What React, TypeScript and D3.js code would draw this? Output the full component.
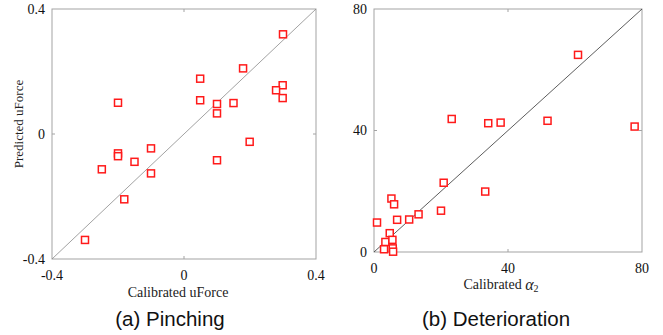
import * as d3 from "d3";

// (a) Pinching: calibrated vs predicted uForce
const pinchCalibrated = [
  0.3, 0.179, 0.049, 0.299, 0.279, 0.299, 0.049, 0.1, 0.15, -0.2, 0.1,
  0.199, -0.1, -0.2, -0.2, -0.15, 0.1, -0.249, -0.1, -0.181, -0.3,
];
const pinchPredicted = [
  0.319, 0.21, 0.177, 0.156, 0.14, 0.115, 0.108, 0.096, 0.099, 0.1, 0.066,
  -0.025, -0.046, -0.062, -0.071, -0.089, -0.084, -0.113, -0.126, -0.209, -0.339,
];
const pinchTicks = [-0.4, 0, 0.4];
const pinchTickLabels = ["-0.4", "0", "0.4"];

// (b) Deterioration: calibrated vs predicted alpha2
const detCalibrated = [
  60.9, 23.2, 34.1, 37.8, 51.8, 77.8, 20.8, 33.2, 20.0, 5.2, 6.0, 0.9, 6.9,
  10.5, 13.3, 4.7, 3.4, 5.5, 3.0, 5.6, 5.7,
];
const detPredicted = [
  64.9, 43.8, 42.4, 42.6, 43.2, 41.3, 22.8, 19.9, 13.6, 17.6, 15.7, 9.7, 10.6,
  10.7, 12.4, 6.2, 3.3, 4.0, 0.9, 1.2, 0.1,
];
const detTicks = [0, 40, 80];
const detTickLabels = ["0", "40", "80"];

const SERIF = "'Liberation Serif', 'Times New Roman', serif";
const SANS = "'Liberation Sans', Arial, sans-serif";

function Panel({
  xs,
  ys,
  ticks,
  tickLabels,
  box,
  diagColor,
  yLabel,
  xLabel,
  caption,
}: {
  xs: number[];
  ys: number[];
  ticks: number[];
  tickLabels: string[];
  box: { left: number; right: number; top: number; bottom: number };
  diagColor: string;
  yLabel?: string;
  xLabel: { node: JSX.Element; x: number; y: number };
  caption: { text: string; x: number };
}) {
  const lo = ticks[0];
  const hi = ticks[ticks.length - 1];
  const x = d3.scaleLinear().domain([lo, hi]).range([box.left, box.right]);
  const y = d3.scaleLinear().domain([lo, hi]).range([box.bottom, box.top]);
  const mid = ticks[1];
  const frame = "#a3a3a3";
  const s = 7;

  return (
    <g>
      <rect
        x={box.left}
        y={box.top}
        width={box.right - box.left}
        height={box.bottom - box.top}
        fill="none"
        stroke={frame}
        strokeWidth={1}
      />
      {/* inward ticks at the middle value */}
      <line x1={x(mid)} x2={x(mid)} y1={box.top} y2={box.top + 3} stroke={frame} />
      <line x1={x(mid)} x2={x(mid)} y1={box.bottom} y2={box.bottom - 3} stroke={frame} />
      <line x1={box.left} x2={box.left + 3} y1={y(mid)} y2={y(mid)} stroke={frame} />
      <line x1={box.right} x2={box.right - 3} y1={y(mid)} y2={y(mid)} stroke={frame} />
      <line
        x1={x(lo)}
        y1={y(lo)}
        x2={x(hi)}
        y2={y(hi)}
        stroke={diagColor}
        strokeWidth={0.8}
      />
      {xs.map((v, i) => (
        <rect
          key={i}
          x={x(v) - s / 2}
          y={y(ys[i]) - s / 2}
          width={s}
          height={s}
          fill="white"
          stroke="#ff1a1a"
          strokeWidth={1.5}
        />
      ))}
      {ticks.map((t, i) => (
        <text
          key={"y" + t}
          x={box.left - 7}
          y={y(t)}
          textAnchor="end"
          dominantBaseline="central"
          fontFamily={SERIF}
          fontSize={14}
          fill="#111"
        >
          {tickLabels[i]}
        </text>
      ))}
      {ticks.map((t, i) => (
        <text
          key={"x" + t}
          x={x(t)}
          y={box.bottom + 16}
          textAnchor="middle"
          dominantBaseline="central"
          fontFamily={SERIF}
          fontSize={14}
          fill="#111"
        >
          {tickLabels[i]}
        </text>
      ))}
      {yLabel && (
        <text
          transform={`translate(18,${(box.top + box.bottom) / 2 - 10}) rotate(-90)`}
          textAnchor="middle"
          dominantBaseline="central"
          fontFamily={SERIF}
          fontSize={13}
          fill="#222"
        >
          {yLabel}
        </text>
      )}
      <text
        x={xLabel.x}
        y={xLabel.y}
        textAnchor="middle"
        dominantBaseline="central"
        fontFamily={SERIF}
        fontSize={14}
        fill="#222"
      >
        {xLabel.node}
      </text>
      <text
        x={caption.x}
        y={318}
        textAnchor="middle"
        dominantBaseline="central"
        fontFamily={SANS}
        fontSize={20.5}
        fill="#111"
      >
        {caption.text}
      </text>
    </g>
  );
}

export default function App() {
  return (
    <svg
      width={663}
      height={335}
      style={{ position: "absolute", left: 0, top: 0, background: "white" }}
    >
      <Panel
        xs={pinchCalibrated}
        ys={pinchPredicted}
        ticks={pinchTicks}
        tickLabels={pinchTickLabels}
        box={{ left: 52, right: 316, top: 9, bottom: 259 }}
        diagColor="#8a8a8a"
        yLabel="Predicted uForce"
        xLabel={{ node: <>Calibrated uForce</>, x: 178, y: 292 }}
        caption={{ text: "(a) Pinching", x: 170 }}
      />
      <Panel
        xs={detCalibrated}
        ys={detPredicted}
        ticks={detTicks}
        tickLabels={detTickLabels}
        box={{ left: 374, right: 642, top: 9, bottom: 252 }}
        diagColor="#333"
        xLabel={{
          node: (
            <>
              Calibrated{" "}
              <tspan fontStyle="italic" fontSize={16}>
                α
              </tspan>
              <tspan fontSize={10} dy={4}>
                2
              </tspan>
            </>
          ),
          x: 501,
          y: 284,
        }}
        caption={{ text: "(b) Deterioration", x: 496 }}
      />
    </svg>
  );
}
